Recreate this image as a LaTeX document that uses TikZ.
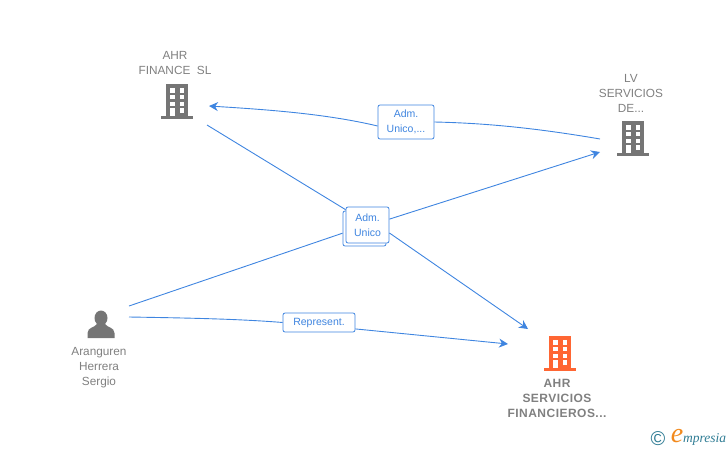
\documentclass[tikz,border=0pt]{standalone}
\usepackage{fontspec}
\setmainfont{Liberation Sans}
\newfontfamily\logofont{Liberation Serif}
\usetikzlibrary{arrows.meta}
\definecolor{linkblue}{HTML}{3F85E0}
\definecolor{icongrey}{HTML}{757575}
\definecolor{textgrey}{HTML}{808080}
\definecolor{mainorange}{HTML}{FF6633}
\definecolor{logoteal}{HTML}{2F7C94}
\definecolor{logoorange}{HTML}{F28A1E}
\tikzset{
	linkline/.style = {draw = linkblue, line width = 0.9pt},
	linkbox/.style = {draw = linkblue, fill = white, rounded corners = 2pt, line width = 0.8pt, text = linkblue, font = \fontsize{10.5}{15}\selectfont, align = center, inner sep = 0pt},
	iconlabel/.style = {text = textgrey, font = \fontsize{11.8}{14.8}\selectfont, align = center, inner sep = 0pt},
	pics/building/.style = {code = {
		\fill [#1] (-11, -16) rectangle (11, 16);
		\fill [#1] (-16, 16) rectangle (16, 19);
		\foreach \ya/\yb in {-11.7/-6.7, -5/-0.7, 1.7/6} {
			\fill [white] (-7, \ya) rectangle (-2.5, \yb);
			\fill [white] (2.5, \ya) rectangle (7, \yb);
		}
		\fill [white] (-7, 8.3) rectangle (-2.5, 16);
		\fill [white] (2.5, 8.3) rectangle (7, 12.7);
	}}
}
\begin{document}
\begin{tikzpicture}[> = {Stealth[length=9pt, width=9pt]}, x = 1pt, y = -1pt]

	\useasboundingbox (0, 0) rectangle (728, 450);

	% Icons

	\pic at (177, 100) {building = icongrey};
	\pic at (633, 137) {building = icongrey};
	\pic at (560, 352) {building = mainorange};
	\fill [icongrey] (101, 318) ellipse (6.5 and 7.5);
	\fill [icongrey] (87.5, 338) -- (87.5, 333) .. controls (88, 327) and (94, 328) .. (97, 324) -- (105, 324) .. controls (108, 328) and (114, 327) .. (114.5, 333) -- (114.5, 338) -- cycle;

	% Icon labels

	\node [iconlabel] (financelabel) at (175, 63) {AHR\\FINANCE~~SL};
	\node [iconlabel] (lvlabel) at (631, 93.5) {LV\\SERVICIOS\\DE...};
	\node [iconlabel] (personlabel) at (99, 367.5) {Aranguren\\Herrera\\Sergio};
	\node [iconlabel, font = \fontsize{12}{14.8}\selectfont\bfseries\addfontfeature{LetterSpace=4}] (mainlabel) at (557, 398.5) {AHR\\SERVICIOS\\FINANCIEROS...};

	% Free ends of the links

	\coordinate (financein) at (209, 106);
	\coordinate (financeout) at (207, 125);
	\coordinate (lvin) at (600, 152);
	\coordinate (lvout) at (600, 139);
	\coordinate (personup) at (129, 306);
	\coordinate (persondown) at (129, 317);
	\coordinate (mainup) at (528, 329);
	\coordinate (maindown) at (508, 344);

	% Link boxes

	\node [linkbox, minimum width = 43pt, minimum height = 35pt] (unicoback) at (364.5, 228.5) {};
	\node [linkbox, minimum width = 43pt, minimum height = 36pt] (unicofront) at (367.5, 225) {Adm.\\Unico};
	\node [linkbox, minimum width = 56pt, minimum height = 34pt] (unicotop) at (406, 122) {Adm.\\Unico,...};
	\node [linkbox, minimum width = 72pt, minimum height = 19pt] (represent) at (319, 322.5) {Represent.};

	% Links

	\draw [linkline, ->] (unicotop.188) .. controls (325, 113.5) and (265, 109.5) .. (financein);
	\draw [linkline] (lvout) .. controls (530, 127) and (480, 123) .. (unicotop.east);
	\draw [linkline] (financeout) -- (unicofront.145);
	\draw [linkline, ->] (unicofront.-20) -- (mainup);
	\draw [linkline] (personup) -- (unicoback.192);
	\draw [linkline, ->] (unicofront.15) -- (lvin);
	\draw [linkline] (persondown) .. controls (190, 318) and (240, 319) .. (represent.west);
	\draw [linkline, ->] (represent.-10) -- (maindown);

	% Logo

	\node [text = logoteal, font = \fontsize{20}{20}\selectfont, inner sep = 0pt] (logomark) at (658, 439) {\textcopyright};
	\node [text = logoorange, font = \fontsize{28}{28}\logofont\itshape, inner sep = 0pt] (logoe) at (677, 436) {e};
	\node [text = logoteal, font = \fontsize{13.5}{13.5}\logofont\itshape, inner sep = 0pt, anchor = west] (logoname) at (683, 439) {mpresia};

\end{tikzpicture}
\end{document}
